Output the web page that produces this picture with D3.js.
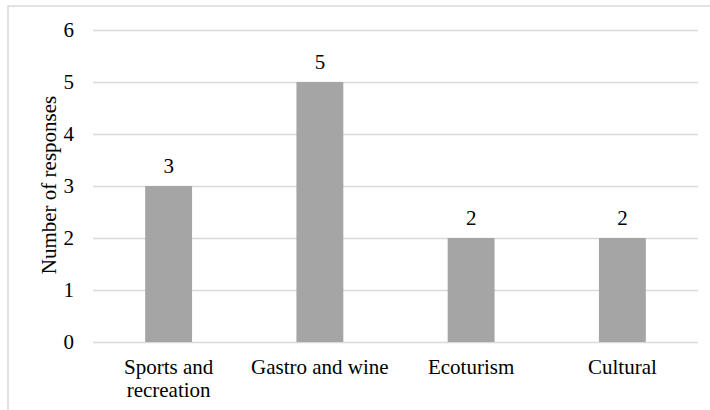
<!DOCTYPE html>
<html><head><meta charset="utf-8">
<script src="https://cdn.jsdelivr.net/npm/d3@7"></script>
<style>body{margin:0;background:#fff}svg{display:block}</style>
</head><body><svg id="c" width="710" height="410"></svg>
<script>
const categories = [["Sports and","recreation"],["Gastro and wine"],["Ecoturism"],["Cultural"]];
const values = [3,5,2,2];
const yTicks = [0,1,2,3,4,5,6];
const yTitle = "Number of responses";

const FONT = "'Liberation Serif', 'Times New Roman', 'DejaVu Serif', serif";
const svg = d3.select("#c").style("font-family", FONT);
const m = {l:93, r:698, t:30, b:342};
svg.append("rect").attr("x",8).attr("y",6).attr("width",760).attr("height",460)
  .attr("fill","none").attr("stroke","#d9d9d9").attr("stroke-width",1.5);

const x = d3.scaleBand().domain(d3.range(categories.length)).range([m.l,m.r]).paddingInner(0.69).paddingOuter(0.345);
const y = d3.scaleLinear().domain([0,6]).range([m.b,m.t]);

const yAxis = d3.axisLeft(y).tickValues(yTicks).tickFormat(d3.format("d")).tickSize(-(m.r-m.l)).tickPadding(19);
const ga = svg.append("g").attr("transform",`translate(${m.l},0)`).call(yAxis)
  .attr("font-family", null).style("font-family", FONT).attr("font-size", null);
ga.select(".domain").remove();
ga.selectAll(".tick line").attr("stroke","#d9d9d9").attr("stroke-width",1.5);
ga.selectAll(".tick text").style("font-family", FONT).style("font-size","21px").attr("fill","#000");

svg.append("g").selectAll("rect").data(values).join("rect")
  .attr("x",(d,i)=>x(i)).attr("y",d=>y(d)).attr("width",x.bandwidth()).attr("height",d=>y(0)-y(d))
  .attr("fill","#a5a5a5");

svg.append("g").selectAll("text").data(values).join("text")
  .attr("x",(d,i)=>x(i)+x.bandwidth()/2).attr("y",d=>y(d)-13)
  .attr("text-anchor","middle").style("font-size","21px").attr("fill","#000").text(d=>d);

const cl = svg.append("g").selectAll("text").data(categories).join("text")
  .attr("text-anchor","middle").style("font-size","21px").attr("fill","#000")
  .attr("transform",(d,i)=>`translate(${x(i)+x.bandwidth()/2},374)`);
cl.selectAll("tspan").data(d=>d).join("tspan").attr("x",0).attr("dy",(d,j)=>j?23:0).text(d=>d);

svg.append("text").attr("transform",`translate(56,185) rotate(-90)`)
  .attr("text-anchor","middle").style("font-size","21px").attr("fill","#000").text(yTitle);
</script></body></html>
